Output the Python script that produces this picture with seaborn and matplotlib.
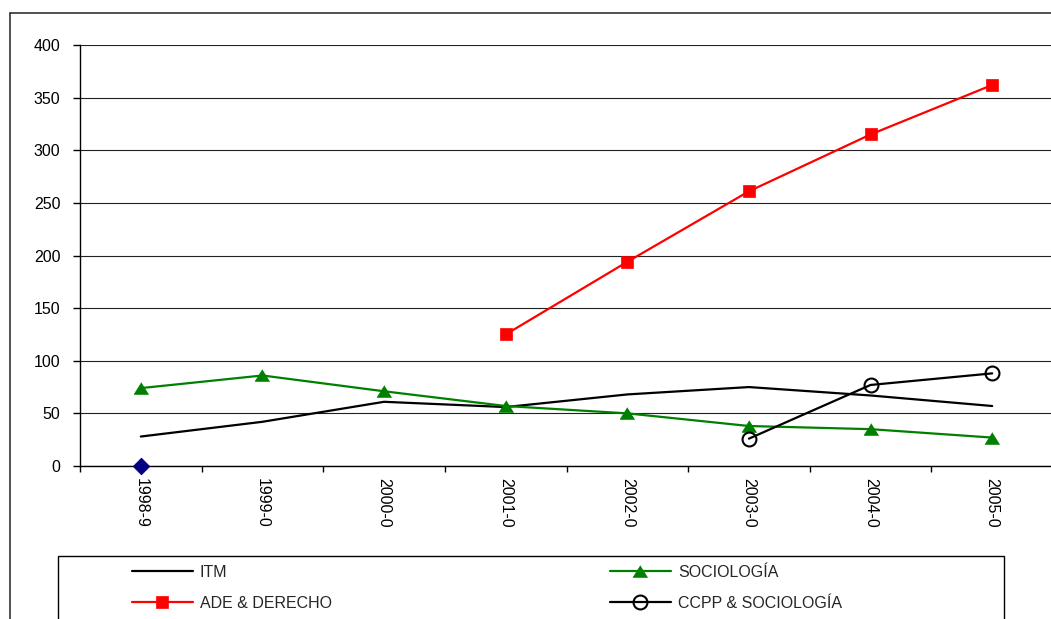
import numpy as np
import pandas as pd
import matplotlib
matplotlib.use("Agg")
import matplotlib.pyplot as plt
import seaborn as sns
from matplotlib.lines import Line2D
from matplotlib.patches import Rectangle

nan = np.nan

# Cursos académicos (etiquetas del eje X)
cursos = ["1998-9", "1999-0", "2000-0", "2001-0", "2002-0", "2003-0", "2004-0", "2005-0"]

# Series por titulación
itm = [28, 42, 61, 56, 68, 75, 67, 57]
sociologia = [74, 86, 71, 57, 50, 38, 35, 27]
ade_derecho = [nan, nan, nan, 125, 194, 261, 315, 362]
ccpp_sociologia = [nan, nan, nan, nan, nan, 26, 77, 88]
serie_sin_nombre = [0, nan, nan, nan, nan, nan, nan, nan]

y_ticks = [0, 50, 100, 150, 200, 250, 300, 350, 400]

sns.set_theme(style="white")
plt.rcParams["font.family"] = ["Liberation Sans", "DejaVu Sans"]

W, H = 1051, 619
fig = plt.figure(figsize=(W / 100, H / 100), dpi=100)
ax = fig.add_axes([80 / W, 1 - 466 / H, 973 / W, 421 / H])

tri = [(0, 0.8), (-1, -0.8), (1, -0.8)]
estilos = {
    "ITM": dict(color="black", lw=1.6, marker=None),
    "SOCIOLOGÍA": dict(color="#008000", lw=1.6, marker=tri, ms=10.5, mfc="#008000", mec="#008000"),
    "ADE & DERECHO": dict(color="#FF0000", lw=1.6, marker="s", ms=9.0, mfc="#FF0000", mec="#FF0000"),
    "CCPP & SOCIOLOGÍA": dict(color="black", lw=1.6, marker="o", ms=10.0, mfc="none", mec="black", mew=1.5),
}
valores = {
    "ITM": itm,
    "SOCIOLOGÍA": sociologia,
    "ADE & DERECHO": ade_derecho,
    "CCPP & SOCIOLOGÍA": ccpp_sociologia,
}

pos = np.arange(len(cursos))
for nombre, vals in valores.items():
    df = pd.DataFrame({"pos": pos, "valor": vals}).dropna()
    st = estilos[nombre]
    kw = dict(color=st["color"], linewidth=st["lw"])
    if st["marker"] is not None:
        kw.update(marker=st["marker"], markersize=st["ms"], markerfacecolor=st["mfc"],
                  markeredgecolor=st["mec"], markeredgewidth=st.get("mew", 0.5))
    sns.lineplot(data=df, x="pos", y="valor", ax=ax, legend=False, zorder=3, **kw)

df0 = pd.DataFrame({"pos": pos, "valor": serie_sin_nombre}).dropna()
sns.scatterplot(data=df0, x="pos", y="valor", ax=ax, marker="D", s=70, color="#000080",
                edgecolor="#000080", legend=False, zorder=4, clip_on=False)

ax.set_xlim(-0.5, len(cursos) - 0.5)
ax.set_ylim(0, 400)
ax.set_xlabel("")
ax.set_ylabel("")

ax.set_yticks(y_ticks)
ax.set_yticklabels([str(v) for v in y_ticks], fontsize=11.5, color="black")
ax.set_xticks(pos)
ax.set_xticklabels(cursos, rotation=270, fontsize=11.5, color="black", va="top", ha="center")
ax.set_xticks(np.arange(-0.5, len(cursos), 1.0), minor=True)
ax.tick_params(axis="x", which="major", length=0, pad=9)
ax.tick_params(axis="x", which="minor", length=4, width=1, color="black", direction="out", bottom=True)
ax.tick_params(axis="y", which="major", length=5, width=1, color="black", direction="out", left=True, pad=9)

ax.yaxis.grid(True, color="#222222", linewidth=0.8)
ax.xaxis.grid(False)
for s in ["top", "right"]:
    ax.spines[s].set_visible(False)
for s in ["left", "bottom"]:
    ax.spines[s].set_color("black")
    ax.spines[s].set_linewidth(1.0)

# Borde exterior del gráfico
fig.add_artist(Line2D([9.5 / W, 9.5 / W], [0, 1 - 12.5 / H], transform=fig.transFigure,
                      color="#333333", lw=1.2))
fig.add_artist(Line2D([9.5 / W, 1], [1 - 12.5 / H, 1 - 12.5 / H], transform=fig.transFigure,
                      color="#333333", lw=1.2))

# Marco de la leyenda
fig.add_artist(Rectangle((57.5 / W, -0.05), (1004 - 57.5) / W, 0.05 + 1 - 555.5 / H,
                         transform=fig.transFigure, fill=False, edgecolor="black", lw=1.0))


def handle(nombre):
    st = estilos[nombre]
    kw = dict(color=st["color"], lw=st["lw"])
    if st["marker"] is not None:
        kw.update(marker=st["marker"], markersize=st["ms"], markerfacecolor=st["mfc"],
                  markeredgecolor=st["mec"], markeredgewidth=st.get("mew", 0.5))
    return Line2D([], [], **kw)


leg_kw = dict(loc="upper left", bbox_transform=fig.transFigure, frameon=False, borderpad=0,
              borderaxespad=0, handlelength=3.8, handletextpad=0.45, labelspacing=1.0,
              fontsize=11.5)
col1 = ["ITM", "ADE & DERECHO"]
col2 = ["SOCIOLOGÍA", "CCPP & SOCIOLOGÍA"]
leg1 = ax.legend([handle(n) for n in col1], col1, bbox_to_anchor=(132 / W, 1 - 565 / H), **leg_kw)
ax.add_artist(leg1)
ax.legend([handle(n) for n in col2], col2, bbox_to_anchor=(610 / W, 1 - 565 / H), **leg_kw)

fig.savefig("out.png", dpi=100)
